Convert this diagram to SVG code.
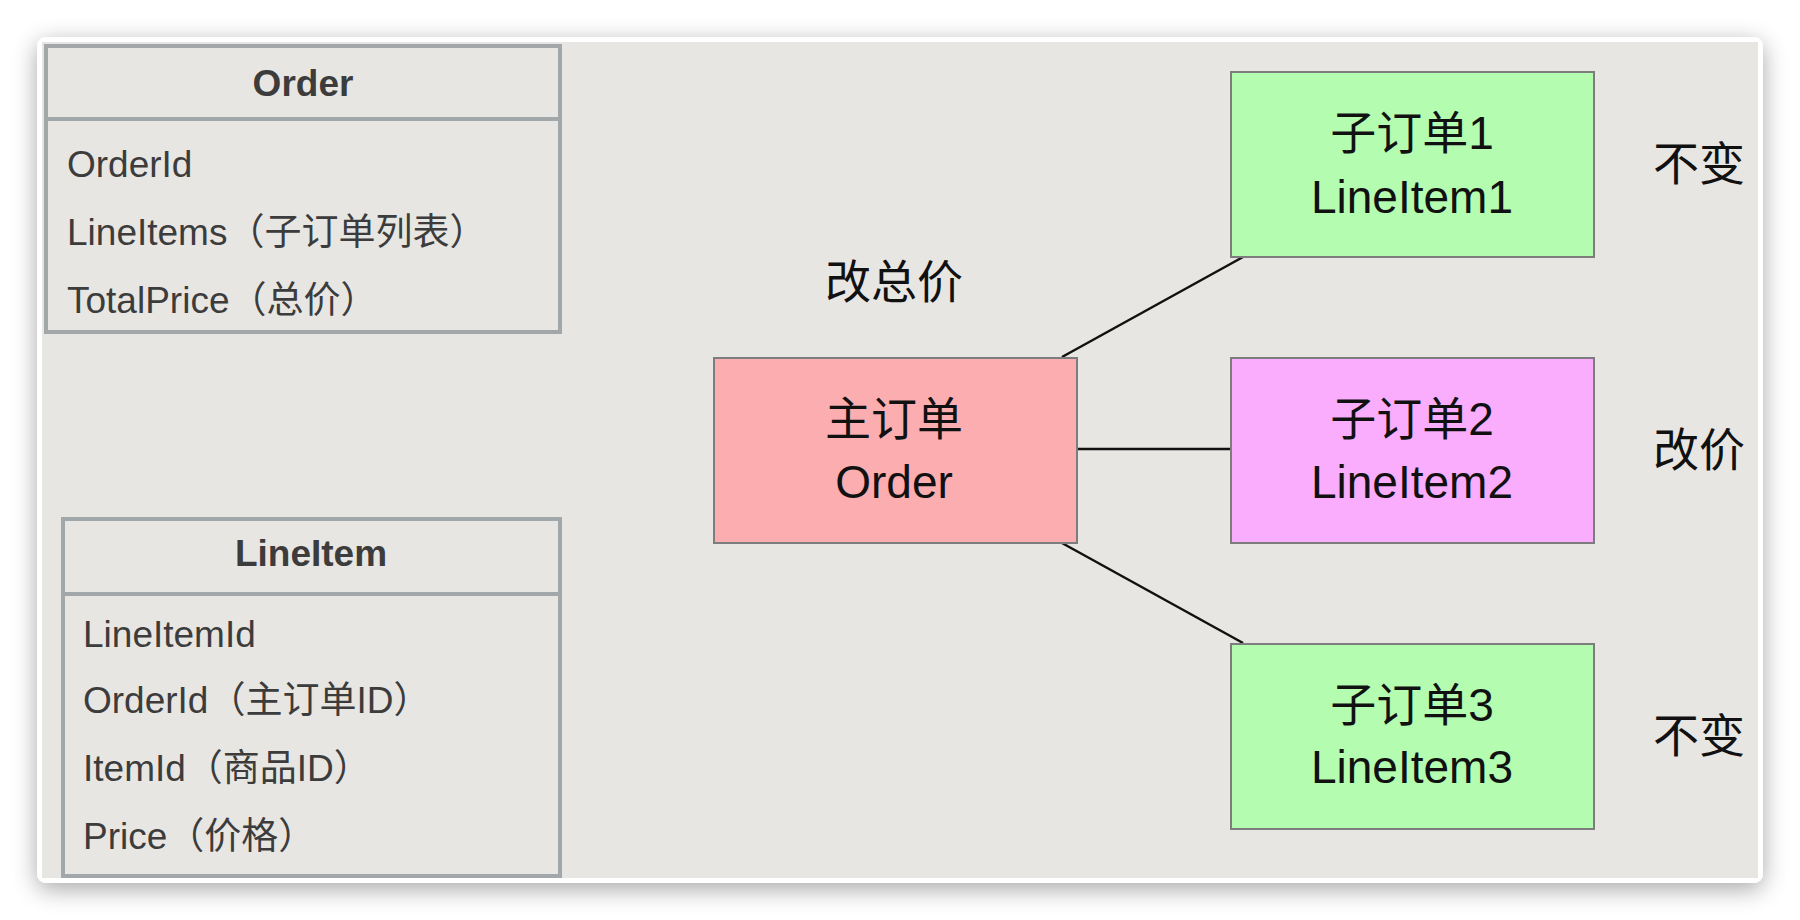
<svg xmlns="http://www.w3.org/2000/svg" width="1800" height="920" viewBox="0 0 1800 920">
<defs>
<filter id="shadow" x="-5%" y="-10%" width="110%" height="120%">
<feGaussianBlur in="SourceAlpha" stdDeviation="12"/>
<feOffset dy="6"/>
<feComponentTransfer><feFuncA type="linear" slope="0.35"/></feComponentTransfer>
<feMerge><feMergeNode/><feMergeNode in="SourceGraphic"/></feMerge>
</filter>
</defs>
<style>
.tbl{fill:#e8e6e2;stroke:#a2a7a9;stroke-width:4}
.sep{stroke:#a2a7a9;stroke-width:4}
.ttl{font-family:"Liberation Sans","Noto Sans CJK SC",sans-serif;font-size:37px;font-weight:bold;fill:#3c3c3c;text-anchor:middle}
.fld{font-family:"Liberation Sans","Noto Sans CJK SC",sans-serif;font-size:37px;fill:#3c3c3c}
.node{stroke:#7d7d7d;stroke-width:2}
.nt{font-family:"Liberation Sans","Noto Sans CJK SC",sans-serif;font-size:46px;fill:#111;text-anchor:middle}
.conn{stroke:#111;stroke-width:2.5;fill:none}
</style>
<rect width="1800" height="920" fill="#ffffff"/>
<rect x="37" y="37" width="1726" height="846" rx="9" fill="#ffffff" filter="url(#shadow)"/>
<rect x="42" y="42" width="1716" height="836" fill="#e8e6e2"/>

<g id="order-table">
<rect class="tbl" x="46" y="46" width="514" height="286"/>
<line class="sep" x1="46" y1="119" x2="560" y2="119"/>
<text class="ttl" x="303" y="96">Order</text>
<text class="fld" x="67" y="177">OrderId</text>
<text class="fld" x="67" y="245">LineItems（子订单列表）</text>
<text class="fld" x="67" y="313">TotalPrice（总价）</text>
</g>

<g id="lineitem-table">
<rect class="tbl" x="63" y="519" width="497" height="357"/>
<line class="sep" x1="63" y1="594" x2="560" y2="594"/>
<text class="ttl" x="311" y="566">LineItem</text>
<text class="fld" x="83" y="647">LineItemId</text>
<text class="fld" x="83" y="713">OrderId（主订单ID）</text>
<text class="fld" x="83" y="781">ItemId（商品ID）</text>
<text class="fld" x="83" y="849">Price（价格）</text>
</g>

<g id="connectors">
<line class="conn" x1="1062" y1="357" x2="1243" y2="257"/>
<line class="conn" x1="1077" y1="449" x2="1231" y2="449"/>
<line class="conn" x1="1062" y1="543" x2="1243" y2="643"/>
</g>

<g id="label-total">
<text class="nt" x="894" y="298">改总价</text>
</g>

<g id="main-order">
<rect class="node" x="714" y="358" width="363" height="185" fill="#fbadb0"/>
<text class="nt" x="894" y="435">主订单</text>
<text class="nt" x="894" y="498">Order</text>
</g>

<g id="sub1">
<rect class="node" x="1231" y="72" width="363" height="185" fill="#b4fcb0"/>
<text class="nt" x="1412" y="149">子订单1</text>
<text class="nt" x="1412" y="213">LineItem1</text>
</g>

<g id="sub2">
<rect class="node" x="1231" y="358" width="363" height="185" fill="#f9adfc"/>
<text class="nt" x="1412" y="435">子订单2</text>
<text class="nt" x="1412" y="498">LineItem2</text>
</g>

<g id="sub3">
<rect class="node" x="1231" y="644" width="363" height="185" fill="#b4fcb0"/>
<text class="nt" x="1412" y="721">子订单3</text>
<text class="nt" x="1412" y="783">LineItem3</text>
</g>

<g id="labels-right">
<text class="nt" x="1699" y="180">不变</text>
<text class="nt" x="1699" y="466">改价</text>
<text class="nt" x="1699" y="752">不变</text>
</g>
</svg>
